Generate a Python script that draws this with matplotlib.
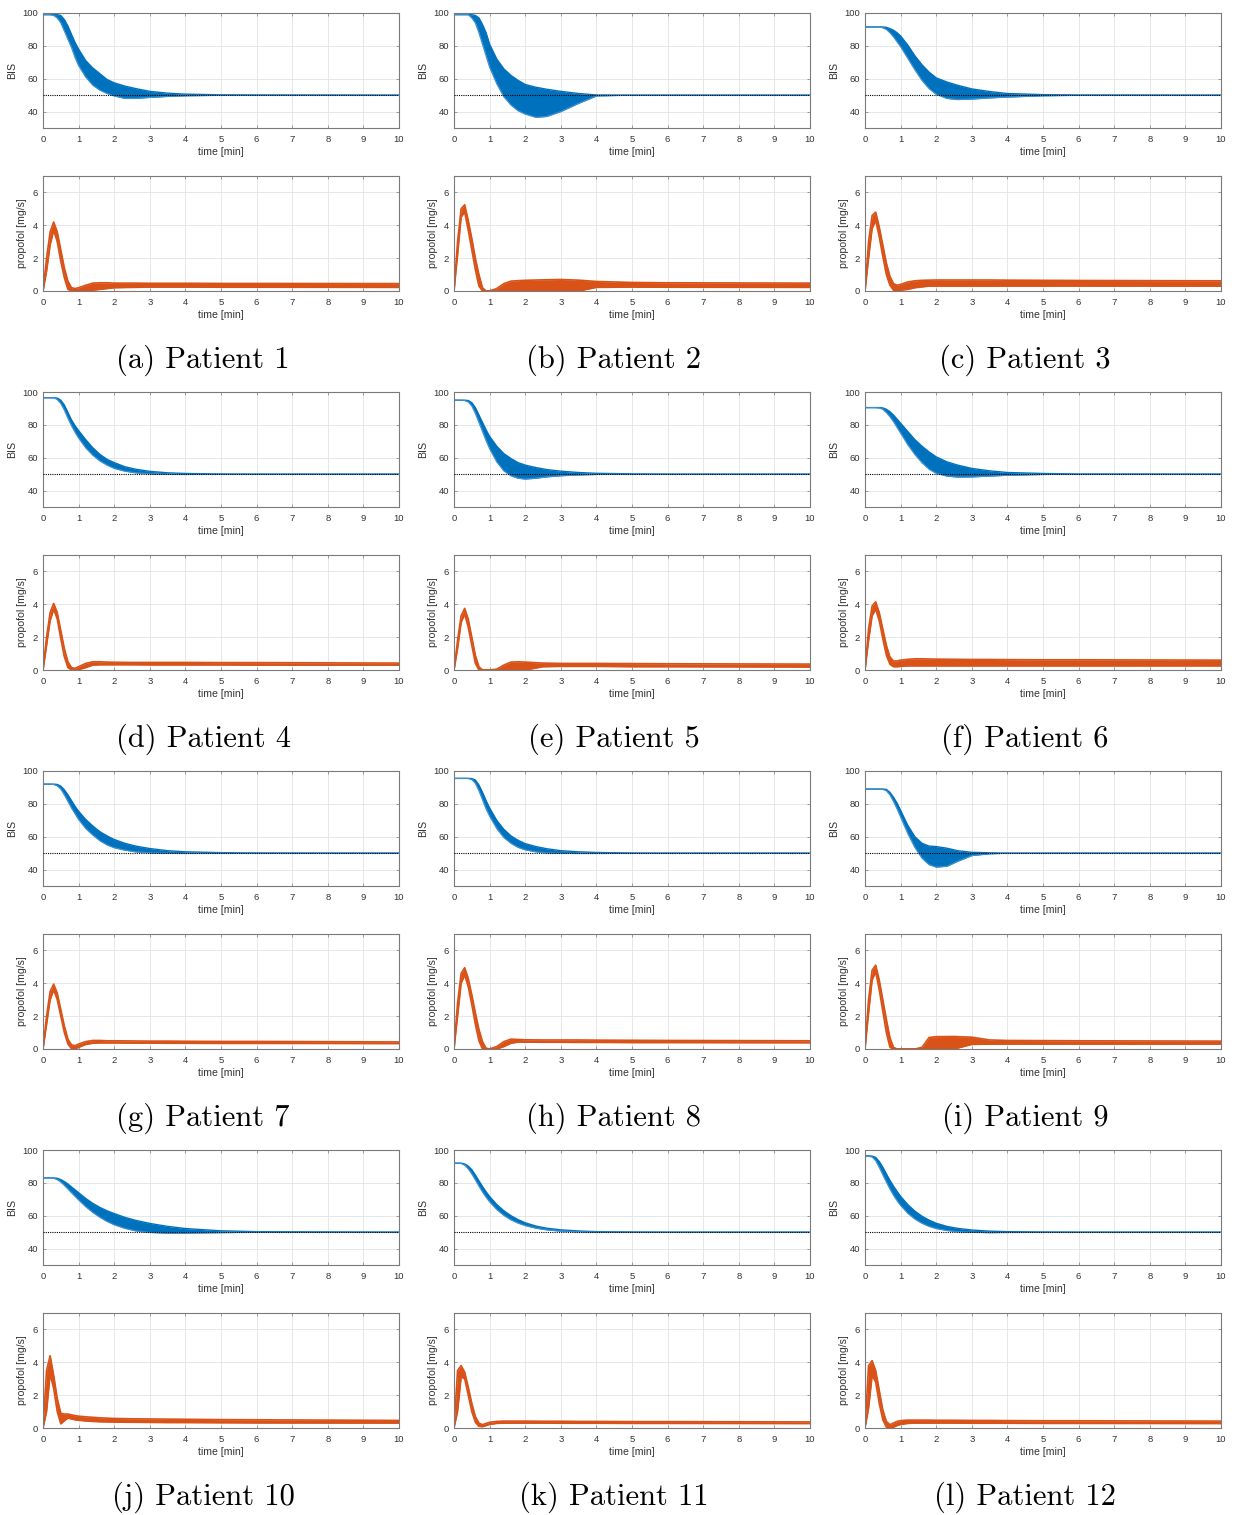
import matplotlib
matplotlib.use("Agg")
import matplotlib.pyplot as plt
import numpy as np

# ---------------- data ----------------
t_bis = [0, 0.2, 0.3, 0.4, 0.5, 0.6, 0.7, 0.8, 0.9, 1.0, 1.2, 1.4, 1.6, 1.8, 2.0,
         2.3, 2.6, 3.0, 3.5, 4.0, 5.0, 6.0, 10.0]
t_prop = [0, 0.1, 0.2, 0.3, 0.4, 0.5, 0.6, 0.7, 0.8, 0.9, 1.0, 1.2, 1.4, 1.6, 1.8,
          2.0, 2.5, 3.0, 3.5, 4.0, 5.0, 6.0, 10.0]

bis_hi = [
    [99, 99, 99, 99, 98.5, 96, 92, 87, 82, 78, 71, 66.5, 63, 59.5, 57.5, 55.5, 54, 52.3, 51.2, 50.6, 50.2, 50.1, 50],
    [99, 99, 99, 99, 99, 98.5, 97, 93, 88, 81, 72, 66, 62, 59, 56.5, 54.8, 53.6, 52.3, 51, 50.1, 50, 50, 50],
    [91.5, 91.5, 91.5, 91.5, 91.5, 91.3, 90.5, 89.5, 88, 86, 80.5, 74, 68.5, 64, 60.5, 58, 56, 53.8, 52.2, 51, 50.3, 50.1, 50],
    [96.5, 96.5, 96.5, 96.3, 95, 92, 87.5, 83, 79.5, 76.5, 71, 66, 62, 59, 57, 54.5, 53, 51.7, 50.8, 50.4, 50.1, 50, 50],
    [95, 95, 95, 94.8, 93.5, 90.5, 86, 81.5, 77, 73, 67, 62.5, 59.5, 57, 55.5, 54, 52.8, 51.8, 51, 50.5, 50.2, 50, 50],
    [90.5, 90.5, 90.5, 90.5, 90.3, 89.5, 88, 86, 83.5, 81, 76, 71, 67, 63.5, 60.5, 57.5, 55.5, 53.5, 52, 51, 50.4, 50.1, 50],
    [92, 92, 92, 91.8, 90.8, 88.5, 85.5, 82, 78.5, 75.5, 70.5, 66.5, 63, 60.5, 58.3, 56, 54.3, 52.8, 51.5, 50.8, 50.3, 50.1, 50],
    [95.5, 95.5, 95.5, 95.5, 95.4, 94.5, 91.5, 87, 82, 77.5, 70, 64.5, 60.5, 57.8, 55.8, 54, 52.7, 51.5, 50.8, 50.4, 50.1, 50, 50],
    [89, 89, 89, 89, 89, 88.8, 87, 84, 80.5, 76, 67, 60, 56, 54.3, 54, 53, 51.5, 50.5, 50.2, 50, 50, 50, 50],
    [83, 83, 83, 82.8, 82, 80.8, 79.3, 77.5, 75.8, 74, 70.5, 67.5, 65, 63, 61.3, 59, 57.2, 55.3, 53.5, 52.2, 50.8, 50.3, 50],
    [92, 92, 91.5, 90.2, 88, 84.8, 81.2, 77.8, 74.6, 71.7, 66.8, 63, 60, 57.6, 55.7, 53.7, 52.4, 51.4, 50.7, 50.3, 50.1, 50, 50],
    [96.5, 96.3, 95.5, 93, 89.5, 85.5, 81.5, 78, 74.8, 71.8, 66.8, 62.8, 59.7, 57.3, 55.4, 53.5, 52.3, 51.3, 50.6, 50.3, 50.1, 50, 50],
]
bis_lo = [
    [99, 99, 98.5, 97, 94, 89, 84, 79, 73, 68, 61, 56, 53, 51, 49.5, 48, 48, 48.6, 49.2, 49.6, 49.9, 50, 50],
    [99, 99, 99, 99, 97, 94, 88, 81, 74, 67, 57, 49, 44, 40.5, 38.5, 36.5, 37, 40, 45, 49.5, 50, 50, 50],
    [91.5, 91.5, 91.5, 91.5, 91, 90, 88, 85.5, 82.5, 79.5, 72.5, 65.5, 59, 54, 50.5, 48, 47.3, 47.6, 48.3, 48.8, 49.6, 49.9, 50],
    [96.5, 96.5, 96.5, 95.5, 93, 89, 84, 79.5, 75.5, 72, 66, 61.5, 58, 55.5, 53.5, 51.8, 50.8, 50.2, 49.9, 49.8, 49.9, 50, 50],
    [95, 95, 94.8, 94, 91.5, 87, 81.5, 76, 70.5, 65.5, 57.5, 52, 49, 47.5, 47, 47.5, 48.3, 49, 49.5, 49.8, 50, 50, 50],
    [90.5, 90.5, 90.5, 90.3, 89.5, 87.5, 85, 82, 78.5, 75, 68, 62, 57, 53, 50.5, 48.8, 48.2, 48.3, 48.8, 49.3, 49.8, 50, 50],
    [92, 92, 91.8, 91, 89, 85.5, 81.5, 77.5, 74, 70.5, 65, 61, 57.5, 55, 53.3, 51.8, 50.8, 50.2, 49.9, 49.8, 49.9, 50, 50],
    [95.5, 95.5, 95.5, 95.5, 94.8, 92.5, 88, 82.5, 77, 72.5, 65, 59.5, 56, 53.5, 52, 50.8, 50.2, 49.9, 49.8, 49.8, 49.9, 50, 50],
    [89, 89, 89, 89, 88.8, 88, 85.5, 81.5, 77, 72, 62, 53.5, 47, 43, 41.5, 42, 45, 48.5, 49.6, 49.9, 50, 50, 50],
    [83, 83, 82.8, 82, 80.5, 78.5, 76.3, 74, 71.8, 69.6, 65.5, 62, 59, 56.5, 54.5, 52.3, 50.8, 49.8, 49.4, 49.4, 49.7, 49.9, 50],
    [92, 91.8, 90.8, 88.5, 85.5, 81.8, 78, 74.5, 71.3, 68.5, 63.8, 60.2, 57.5, 55.5, 54, 52.4, 51.4, 50.6, 50.2, 50, 50, 50, 50],
    [96.5, 95.8, 93.5, 89.5, 85, 80.5, 76.3, 72.5, 69.2, 66.3, 61.5, 58, 55.4, 53.5, 52.2, 51, 50.3, 49.9, 49.7, 49.8, 49.9, 50, 50],
]
prop_hi = [
    [0, 2.0, 3.6, 4.2, 3.6, 2.5, 1.4, 0.6, 0.2, 0.15, 0.2, 0.35, 0.48, 0.5, 0.5, 0.48, 0.48, 0.47, 0.47, 0.47, 0.46, 0.46, 0.45],
    [0, 3.0, 5.0, 5.25, 4.3, 3.2, 2.0, 1.0, 0.2, 0, 0, 0.15, 0.45, 0.6, 0.63, 0.65, 0.68, 0.7, 0.66, 0.58, 0.52, 0.5, 0.48],
    [0, 3.0, 4.6, 4.8, 3.9, 2.8, 1.7, 0.9, 0.45, 0.35, 0.4, 0.55, 0.62, 0.65, 0.66, 0.67, 0.67, 0.67, 0.67, 0.66, 0.65, 0.64, 0.62],
    [0, 2.0, 3.5, 4.05, 3.5, 2.4, 1.3, 0.5, 0.15, 0.1, 0.2, 0.4, 0.5, 0.5, 0.48, 0.47, 0.46, 0.46, 0.46, 0.46, 0.45, 0.45, 0.42],
    [0, 1.8, 3.3, 3.75, 3.1, 2.0, 0.9, 0.2, 0, 0, 0, 0.05, 0.3, 0.48, 0.5, 0.48, 0.42, 0.4, 0.4, 0.4, 0.39, 0.38, 0.36],
    [0, 2.5, 3.9, 4.15, 3.5, 2.5, 1.5, 0.8, 0.55, 0.55, 0.6, 0.65, 0.68, 0.68, 0.67, 0.66, 0.65, 0.64, 0.64, 0.63, 0.62, 0.62, 0.6],
    [0, 2.0, 3.5, 3.95, 3.4, 2.4, 1.4, 0.6, 0.25, 0.2, 0.3, 0.45, 0.52, 0.52, 0.5, 0.5, 0.49, 0.48, 0.48, 0.47, 0.46, 0.46, 0.43],
    [0, 2.8, 4.6, 4.95, 4.3, 3.3, 2.2, 1.2, 0.45, 0.05, 0, 0.15, 0.45, 0.6, 0.58, 0.56, 0.55, 0.55, 0.55, 0.54, 0.53, 0.52, 0.5],
    [0, 3.0, 4.8, 5.1, 4.2, 3.0, 1.8, 0.7, 0.1, 0, 0, 0, 0, 0.1, 0.7, 0.75, 0.76, 0.72, 0.55, 0.52, 0.51, 0.5, 0.48],
    [0, 3.5, 4.4, 3.2, 1.8, 0.9, 0.85, 0.85, 0.8, 0.75, 0.72, 0.68, 0.65, 0.62, 0.6, 0.58, 0.56, 0.55, 0.54, 0.53, 0.51, 0.5, 0.46],
    [0, 3.5, 3.8, 3.4, 2.5, 1.5, 0.7, 0.3, 0.2, 0.28, 0.35, 0.4, 0.42, 0.42, 0.42, 0.42, 0.41, 0.41, 0.4, 0.4, 0.39, 0.39, 0.37],
    [0, 3.8, 4.1, 3.5, 2.3, 1.1, 0.4, 0.2, 0.3, 0.4, 0.45, 0.48, 0.48, 0.48, 0.48, 0.47, 0.47, 0.46, 0.46, 0.45, 0.44, 0.44, 0.42],
]
prop_lo = [
    [0, 1.2, 2.8, 3.7, 3.0, 1.8, 0.8, 0.1, 0, 0, 0, 0, 0.05, 0.1, 0.15, 0.2, 0.22, 0.24, 0.24, 0.24, 0.23, 0.23, 0.22],
    [0, 2.2, 4.5, 4.8, 3.7, 2.5, 1.3, 0.3, 0, 0, 0, 0, 0, 0, 0, 0, 0, 0, 0, 0.22, 0.24, 0.23, 0.22],
    [0, 2.0, 3.8, 4.3, 3.3, 2.1, 1.0, 0.35, 0.05, 0, 0.05, 0.1, 0.2, 0.25, 0.3, 0.3, 0.3, 0.3, 0.3, 0.3, 0.3, 0.3, 0.3],
    [0, 1.5, 3.0, 3.7, 3.1, 1.9, 0.8, 0.15, 0, 0, 0.02, 0.15, 0.3, 0.32, 0.32, 0.32, 0.32, 0.31, 0.31, 0.31, 0.31, 0.3, 0.3],
    [0, 1.3, 2.9, 3.4, 2.6, 1.5, 0.4, 0, 0, 0, 0, 0, 0, 0, 0, 0, 0.2, 0.22, 0.22, 0.22, 0.2, 0.2, 0.18],
    [0, 1.8, 3.3, 3.7, 3.0, 1.9, 0.9, 0.35, 0.2, 0.2, 0.22, 0.25, 0.25, 0.25, 0.25, 0.25, 0.25, 0.25, 0.25, 0.25, 0.25, 0.25, 0.25],
    [0, 1.5, 3.0, 3.6, 3.0, 2.0, 1.0, 0.3, 0.02, 0, 0.1, 0.28, 0.35, 0.37, 0.37, 0.37, 0.36, 0.36, 0.35, 0.35, 0.34, 0.34, 0.33],
    [0, 2.0, 4.0, 4.5, 3.8, 2.7, 1.5, 0.5, 0, 0, 0, 0, 0.15, 0.35, 0.42, 0.42, 0.41, 0.41, 0.4, 0.4, 0.39, 0.39, 0.38],
    [0, 2.2, 4.2, 4.7, 3.6, 2.3, 1.0, 0.1, 0, 0, 0, 0, 0, 0, 0, 0, 0, 0.28, 0.3, 0.3, 0.3, 0.3, 0.3],
    [0, 1.0, 3.3, 2.4, 1.0, 0.25, 0.45, 0.6, 0.55, 0.5, 0.47, 0.43, 0.4, 0.38, 0.37, 0.36, 0.35, 0.34, 0.33, 0.33, 0.32, 0.31, 0.3],
    [0, 1.0, 3.1, 3.0, 2.0, 1.0, 0.35, 0.1, 0.08, 0.15, 0.22, 0.28, 0.3, 0.3, 0.3, 0.3, 0.3, 0.29, 0.29, 0.29, 0.28, 0.28, 0.27],
    [0, 1.2, 3.2, 2.8, 1.5, 0.5, 0.05, 0, 0.05, 0.15, 0.22, 0.28, 0.3, 0.3, 0.3, 0.3, 0.3, 0.29, 0.29, 0.29, 0.28, 0.28, 0.27],
]
captions = ["(a) Patient 1", "(b) Patient 2", "(c) Patient 3", "(d) Patient 4",
            "(e) Patient 5", "(f) Patient 6", "(g) Patient 7", "(h) Patient 8",
            "(i) Patient 9", "(j) Patient 10", "(k) Patient 11", "(l) Patient 12"]
bis_target = 50
x_ticks = list(range(0, 11))
bis_ticks = [40, 60, 80, 100]
prop_ticks = [0, 2, 4, 6]

# ---------------- styling / layout ----------------
W, H = 1236, 1515
fig = plt.figure(figsize=(W / 100, H / 100), dpi=100)
plt.rcParams['font.family'] = ['Liberation Sans', 'DejaVu Sans']

BLUE = '#0072BD'
ORANGE = '#D95319'
AX_COL = '#7a7a7a'
TXT_COL = '#333333'

col_left = [43, 454, 865]
ax_w = 356
ax_h = 115
row_off = 379


def style(ax, ylim, yticks, ylabel):
    ax.set_xlim(0, 10)
    ax.set_ylim(*ylim)
    ax.set_xticks(x_ticks)
    ax.set_yticks(yticks)
    ax.grid(True, color='#e3e3e3', lw=0.6)
    ax.set_axisbelow(True)
    for s in ax.spines.values():
        s.set_color(AX_COL)
        s.set_linewidth(0.8)
    ax.tick_params(direction='in', length=2.5, width=0.5, colors=AX_COL,
                   labelcolor=TXT_COL, labelsize=6.8, pad=3.5,
                   top=True, right=True)
    ax.tick_params(axis='x', pad=5)
    ax.set_xlabel('time [min]', fontsize=7.6, color=TXT_COL, labelpad=2.5)
    ax.set_ylabel(ylabel, fontsize=7.6, color=TXT_COL, labelpad=4)


def add_axes(px_left, px_top):
    return fig.add_axes([px_left / W, 1 - (px_top + ax_h) / H, ax_w / W, ax_h / H])


for i in range(12):
    r, c = divmod(i, 3)
    left = col_left[c]
    top_bis = 13 + r * row_off
    top_prop = 176 + r * row_off

    ax1 = add_axes(left, top_bis)
    ax1.fill_between(t_bis, bis_lo[i], bis_hi[i], color=BLUE, lw=0, zorder=2)
    ax1.plot(t_bis, bis_hi[i], color=BLUE, lw=1.0, zorder=2)
    ax1.plot(t_bis, bis_lo[i], color='#3d8fd0', lw=0.9, zorder=2)
    ax1.axhline(bis_target, color='black', ls=(0, (1, 1)), lw=0.8, zorder=3)
    style(ax1, (30, 100), bis_ticks, 'BIS')

    ax2 = add_axes(left, top_prop)
    ax2.fill_between(t_prop, prop_lo[i], prop_hi[i], color=ORANGE, lw=0, zorder=2)
    ax2.plot(t_prop, prop_hi[i], color=ORANGE, lw=1.2, zorder=2)
    ax2.plot(t_prop, prop_lo[i], color=ORANGE, lw=1.2, zorder=2)
    style(ax2, (0, 7), prop_ticks, 'propofol [mg/s]')

    cx = left + ax_w / 2 - 18
    cy = 360 + r * row_off
    fig.text(cx / W, 1 - cy / H, captions[i], fontsize=22, family='cmr10',
             ha='center', va='center', color='black')

fig.savefig('out.png', dpi=100)
